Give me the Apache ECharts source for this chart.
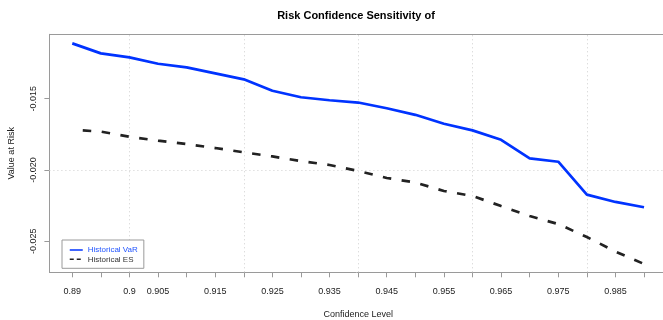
<!DOCTYPE html>
<html>
<head>
<meta charset="utf-8">
<script src="https://cdn.jsdelivr.net/npm/echarts@6/dist/echarts.min.js"></script>
<style>
html,body{margin:0;padding:0;background:#fff;}
#c{width:663px;height:320px;}
</style>
</head>
<body>
<div id="c"></div>
<script>
// Confidence levels (x values)
var confidence = [0.89, 0.895, 0.9, 0.905, 0.91, 0.915, 0.92, 0.925, 0.93, 0.935, 0.94,
                  0.945, 0.95, 0.955, 0.96, 0.965, 0.97, 0.975, 0.98, 0.985, 0.99];
// Historical VaR
var varValues = [-0.01112, -0.01182, -0.01210, -0.01255, -0.01280, -0.01322, -0.01364,
                 -0.01444, -0.01490, -0.01511, -0.01527, -0.01567, -0.01613, -0.01676,
                 -0.01722, -0.01788, -0.01918, -0.01942, -0.02173, -0.02224, -0.02261];
// Historical ES
var esValues = [-0.01718, -0.01731, -0.01767, -0.01794, -0.01818, -0.01846, -0.01876,
                -0.01905, -0.01937, -0.01965, -0.02007, -0.02056, -0.02088, -0.02147,
                -0.02182, -0.02253, -0.02323, -0.02379, -0.02470, -0.02572, -0.02659];
// Tick labels
var xTickLabels = [0.89, 0.9, 0.905, 0.915, 0.925, 0.935, 0.945, 0.955, 0.965, 0.975, 0.985];
var yTicks = [-0.025, -0.020, -0.015];
// Grid line positions
var xGrid = [0.90, 0.92, 0.94, 0.96, 0.98];
var yGrid = [-0.025, -0.020, -0.015];

var FONT = '"Liberation Sans", Arial, Helvetica, sans-serif';
var FRAME = '#9a9a9a';

function pairs(xs, ys) {
  var out = [];
  for (var i = 0; i < xs.length; i++) out.push([xs[i], ys[i]]);
  return out;
}

var gridLines = [];
xGrid.forEach(function (v) { gridLines.push({ xAxis: v }); });
yGrid.forEach(function (v) { gridLines.push({ yAxis: v }); });

var chart = echarts.init(document.getElementById('c'), null, { renderer: 'canvas' });
chart.setOption({
  animation: false,
  backgroundColor: '#ffffff',
  title: {
    text: 'Risk Confidence Sensitivity of',
    left: 351,
    top: 5,
    textAlign: 'center',
    textStyle: { fontFamily: FONT, fontSize: 11, fontWeight: 'bold', color: '#000' }
  },
  grid: {
    left: 49.4, width: 617.5, top: 34.3, bottom: 47.7,
    containLabel: false,
    outerBoundsMode: 'none',
    show: false
  },
  legend: {
    orient: 'vertical',
    left: 62, top: 240,
    backgroundColor: '#fff',
    borderColor: FRAME,
    borderWidth: 1,
    borderRadius: 0,
    padding: [6, 6, 5, 7],
    itemWidth: 13,
    itemHeight: 8,
    itemGap: 1.3,
    itemStyle: { opacity: 0 },
    textStyle: { fontFamily: FONT, fontSize: 8, color: '#333' },
    data: [
      { name: 'Historical VaR', textStyle: { color: '#2255ff' },
        itemStyle: { opacity: 0 },
        lineStyle: { width: 1.5, type: 'solid' } },
      { name: 'Historical ES', textStyle: { color: '#333' },
        itemStyle: { opacity: 0 },
        lineStyle: { width: 1.5, type: [4, 3], dashOffset: 0 } }
    ]
  },
  xAxis: [{
    type: 'value',
    position: 'bottom',
    min: 0.886, max: 0.994,
    name: 'Confidence Level',
    nameLocation: 'middle',
    nameGap: 38,
    nameTextStyle: { fontFamily: FONT, fontSize: 9, color: '#222' },
    axisLine: { show: true, onZero: false, lineStyle: { color: FRAME, width: 1 } },
    axisTick: { show: true, length: 5, customValues: confidence, lineStyle: { color: FRAME } },
    axisLabel: {
      customValues: xTickLabels,
      margin: 15,
      fontFamily: FONT, fontSize: 9, color: '#222',
      formatter: function (v) { return String(Number(v.toFixed(3))); }
    },
    splitLine: { show: false }
  }, {
    type: 'value',
    position: 'top',
    min: 0.886, max: 0.994,
    axisLine: { show: true, onZero: false, lineStyle: { color: FRAME, width: 1 } },
    axisTick: { show: false },
    axisLabel: { show: false },
    splitLine: { show: false }
  }],
  yAxis: {
    type: 'value',
    min: -0.027174, max: -0.010484,
    name: 'Value at Risk',
    nameLocation: 'middle',
    nameRotate: 90,
    nameGap: 33.5,
    nameTextStyle: { fontFamily: FONT, fontSize: 9, color: '#222' },
    axisLine: { show: true, onZero: false, lineStyle: { color: FRAME, width: 1 } },
    axisTick: { show: true, length: 5, customValues: yTicks, lineStyle: { color: FRAME } },
    axisLabel: {
      customValues: yTicks,
      rotate: 90,
      margin: 11,
      fontFamily: FONT, fontSize: 9, color: '#222',
      formatter: function (v) { return v.toFixed(3); }
    },
    splitLine: { show: false }
  },
  series: [
    {
      name: 'Historical VaR',
      type: 'line',
      data: pairs(confidence, varValues),
      showSymbol: false,
      symbol: 'none',
      color: '#0033ff',
      lineStyle: { color: '#0033ff', width: 2.7 },
      z: 3,
      markLine: {
        silent: true,
        symbol: 'none',
        label: { show: false },
        emphasis: { disabled: true },
        lineStyle: { color: '#cfcfcf', type: [1, 3], width: 1 },
        data: gridLines,
        z: 1
      }
    },
    {
      name: 'Historical ES',
      type: 'line',
      data: pairs(confidence, esValues),
      showSymbol: false,
      symbol: 'none',
      color: '#222',
      lineStyle: { color: '#222', width: 2.7, type: [8.5, 10.5], dashOffset: 8.5, cap: 'butt' },
      z: 3
    }
  ]
});
</script>
</body>
</html>
